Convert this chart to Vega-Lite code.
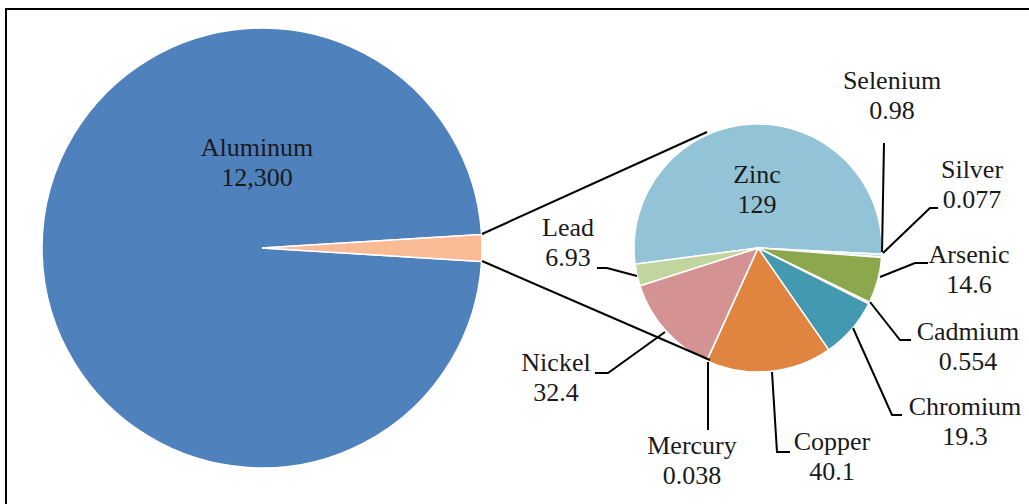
{
  "$schema": "https://vega.github.io/schema/vega-lite/v6.json",
  "width": 1029,
  "height": 504,
  "autosize": {"type": "none"},
  "padding": 0,
  "background": "white",
  "config": {"view": {"stroke": null}},
  "datasets": {
    "metals": [
      {"metal": "Aluminum", "value": 12300, "pie": "main", "ord": 0},
      {"metal": "Zinc", "value": 129, "pie": "sub", "ord": 1},
      {"metal": "Selenium", "value": 0.98, "pie": "sub", "ord": 2},
      {"metal": "Silver", "value": 0.077, "pie": "sub", "ord": 3},
      {"metal": "Arsenic", "value": 14.6, "pie": "sub", "ord": 4},
      {"metal": "Cadmium", "value": 0.554, "pie": "sub", "ord": 5},
      {"metal": "Chromium", "value": 19.3, "pie": "sub", "ord": 6},
      {"metal": "Copper", "value": 40.1, "pie": "sub", "ord": 7},
      {"metal": "Mercury", "value": 0.038, "pie": "sub", "ord": 8},
      {"metal": "Nickel", "value": 32.4, "pie": "sub", "ord": 9},
      {"metal": "Lead", "value": 6.93, "pie": "sub", "ord": 10}
    ],
    "labels": [
      {"metal": "Aluminum", "lx": 257, "ly": 148},
      {"metal": "Zinc", "lx": 757, "ly": 175},
      {"metal": "Selenium", "lx": 892, "ly": 81},
      {"metal": "Silver", "lx": 972, "ly": 170},
      {"metal": "Arsenic", "lx": 969, "ly": 255},
      {"metal": "Cadmium", "lx": 968, "ly": 332},
      {"metal": "Chromium", "lx": 965, "ly": 407},
      {"metal": "Copper", "lx": 832, "ly": 442},
      {"metal": "Mercury", "lx": 692, "ly": 446},
      {"metal": "Nickel", "lx": 556, "ly": 363},
      {"metal": "Lead", "lx": 568, "ly": 228}
    ],
    "leaders": [
      {"id": "conn_top", "i": 0, "px": 482, "py": 234},
      {"id": "conn_top", "i": 1, "px": 707, "py": 132},
      {"id": "conn_bottom", "i": 0, "px": 482, "py": 261},
      {"id": "conn_bottom", "i": 1, "px": 710, "py": 360},
      {"id": "Selenium", "i": 0, "px": 884, "py": 143},
      {"id": "Selenium", "i": 1, "px": 882, "py": 252},
      {"id": "Silver", "i": 0, "px": 938, "py": 208},
      {"id": "Silver", "i": 1, "px": 930, "py": 208},
      {"id": "Silver", "i": 2, "px": 883, "py": 253},
      {"id": "Arsenic", "i": 0, "px": 928, "py": 263},
      {"id": "Arsenic", "i": 1, "px": 915, "py": 263},
      {"id": "Arsenic", "i": 2, "px": 880, "py": 277},
      {"id": "Cadmium", "i": 0, "px": 870, "py": 302},
      {"id": "Cadmium", "i": 1, "px": 900, "py": 340},
      {"id": "Cadmium", "i": 2, "px": 911, "py": 340},
      {"id": "Chromium", "i": 0, "px": 853, "py": 328},
      {"id": "Chromium", "i": 1, "px": 892, "py": 415},
      {"id": "Chromium", "i": 2, "px": 902, "py": 415},
      {"id": "Copper", "i": 0, "px": 772, "py": 372},
      {"id": "Copper", "i": 1, "px": 777, "py": 452},
      {"id": "Copper", "i": 2, "px": 790, "py": 452},
      {"id": "Mercury", "i": 0, "px": 708, "py": 362},
      {"id": "Mercury", "i": 1, "px": 708, "py": 430},
      {"id": "Nickel", "i": 0, "px": 665, "py": 332},
      {"id": "Nickel", "i": 1, "px": 608, "py": 373},
      {"id": "Nickel", "i": 2, "px": 595, "py": 373},
      {"id": "Lead", "i": 0, "px": 597, "py": 268},
      {"id": "Lead", "i": 1, "px": 607, "py": 268},
      {"id": "Lead", "i": 2, "px": 637, "py": 276}
    ],
    "frame": [{"x1": 6, "y1": 9, "x2": 1060, "y2": 540}]
  },
  "layer": [
    {
      "data": {"name": "frame"},
      "mark": {"type": "rect", "fill": null, "stroke": "black", "strokeWidth": 2},
      "encoding": {
        "x": {"field": "x1", "type": "quantitative", "scale": {"domain": [0, 1029]}, "axis": null},
        "x2": {"field": "x2"},
        "y": {"field": "y1", "type": "quantitative", "scale": {"domain": [504, 0]}, "axis": null},
        "y2": {"field": "y2"}
      }
    },
    {
      "data": {"name": "metals"},
      "transform": [
        {"calculate": "datum.pie === 'main' ? datum.metal : 'Other'", "as": "group"},
        {"aggregate": [{"op": "sum", "field": "value", "as": "total"}, {"op": "min", "field": "ord", "as": "gord"}], "groupby": ["group"]}
      ],
      "mark": {"type": "arc", "radius": 220, "stroke": "white", "strokeWidth": 1.5},
      "encoding": {
        "x": {"datum": 262, "type": "quantitative", "scale": {"domain": [0, 1029]}, "axis": null},
        "y": {"datum": 248, "type": "quantitative", "scale": {"domain": [504, 0]}, "axis": null},
        "theta": {"field": "total", "type": "quantitative", "stack": true, "scale": {"range": [1.5097, 7.7929]}},
        "order": {"field": "gord", "sort": "descending"},
        "color": {
          "field": "group", "type": "nominal", "legend": null,
          "scale": {
            "domain": ["Aluminum", "Other", "Zinc", "Selenium", "Silver", "Arsenic", "Cadmium", "Chromium", "Copper", "Mercury", "Nickel", "Lead"],
            "range": ["#4F81BD", "#F9BA96", "#93C3D6", "#C6D9F1", "#A6A6A6", "#8CA84C", "#B3A2C7", "#4299B0", "#DF853F", "#8064A2", "#D49293", "#C1D69E"]
          }
        }
      }
    },
    {
      "data": {"name": "metals"},
      "transform": [{"filter": "datum.pie === 'sub'"}],
      "mark": {"type": "arc", "radius": 124, "stroke": "white", "strokeWidth": 1.5},
      "encoding": {
        "x": {"datum": 758, "type": "quantitative", "scale": {"domain": [0, 1029]}, "axis": null},
        "y": {"datum": 248, "type": "quantitative", "scale": {"domain": [504, 0]}, "axis": null},
        "theta": {"field": "value", "type": "quantitative", "stack": true, "scale": {"range": [4.5815, 10.8647]}},
        "order": {"field": "ord", "sort": "ascending"},
        "color": {"field": "metal", "type": "nominal", "legend": null}
      }
    },
    {
      "data": {"name": "leaders"},
      "mark": {"type": "line", "stroke": "black", "strokeWidth": 2},
      "encoding": {
        "x": {"field": "px", "type": "quantitative", "scale": {"domain": [0, 1029]}, "axis": null},
        "y": {"field": "py", "type": "quantitative", "scale": {"domain": [504, 0]}, "axis": null},
        "detail": {"field": "id"},
        "order": {"field": "i"}
      }
    },
    {
      "data": {"name": "labels"},
      "transform": [
        {"lookup": "metal", "from": {"data": {"name": "metals"}, "key": "metal", "fields": ["value"]}},
        {"calculate": "datum.metal + '\\n' + format(datum.value, ',')", "as": "txt"}
      ],
      "mark": {"type": "text", "font": "Liberation Serif, Times New Roman, serif", "fontSize": 26, "lineHeight": 30, "lineBreak": "\n", "align": "center", "baseline": "middle", "color": "#1a1a1a"},
      "encoding": {
        "x": {"field": "lx", "type": "quantitative", "scale": {"domain": [0, 1029]}, "axis": null},
        "y": {"field": "ly", "type": "quantitative", "scale": {"domain": [504, 0]}, "axis": null},
        "text": {"field": "txt"}
      }
    }
  ],
  "resolve": {"scale": {"theta": "independent"}}
}
